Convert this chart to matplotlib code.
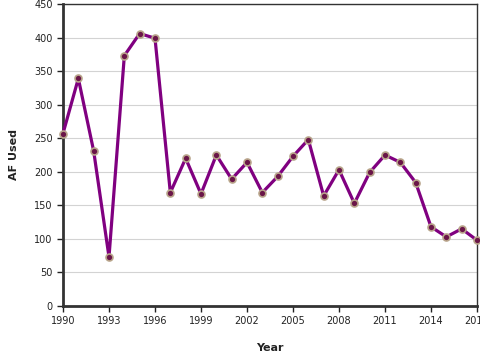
import matplotlib
matplotlib.use("Agg")
import matplotlib.pyplot as plt

years = list(range(1990, 2018))
af_used = [257, 339, 231, 73, 373, 406, 399, 169, 220, 167, 225, 189, 214, 169,
           193, 223, 248, 164, 203, 153, 199, 225, 214, 184, 118, 103, 115, 98]
xticks = list(range(1990, 2018, 3))
yticks = list(range(0, 451, 50))

plt.rcParams['font.family'] = ['DejaVu Sans']
fig = plt.figure(figsize=(4.8, 3.6), dpi=100)
ax = fig.add_axes([63/480, 1-306/360, (477-63)/480, (306-4)/360])

ax.plot(years, af_used, color='#800080', lw=2.3, marker='o', markersize=5,
        markerfacecolor='#6a1548', markeredgecolor='#b8a48a', markeredgewidth=1.2,
        zorder=3, clip_on=False)

ax.set_xlim(1990, 2017)
ax.set_ylim(0, 450)
ax.set_xticks(xticks)
ax.set_yticks(yticks)
ax.tick_params(labelsize=7, colors='#222222', length=4, width=1)
ax.yaxis.grid(True, color='#d3d3d3', lw=0.8)
ax.set_axisbelow(True)
for s in ['left', 'bottom']:
    ax.spines[s].set_linewidth(2)
    ax.spines[s].set_color('#333333')
for s in ['top', 'right']:
    ax.spines[s].set_linewidth(1)
    ax.spines[s].set_color('#333333')
ax.set_xlabel('Year', fontsize=8, fontweight='bold', color='#222222')
ax.set_ylabel('AF Used', fontsize=8, fontweight='bold', color='#222222')
ax.xaxis.set_label_coords((270-63)/414, -37/302)
ax.yaxis.set_label_coords(-44/414, 0.5)

fig.savefig('out.png', dpi=100)
